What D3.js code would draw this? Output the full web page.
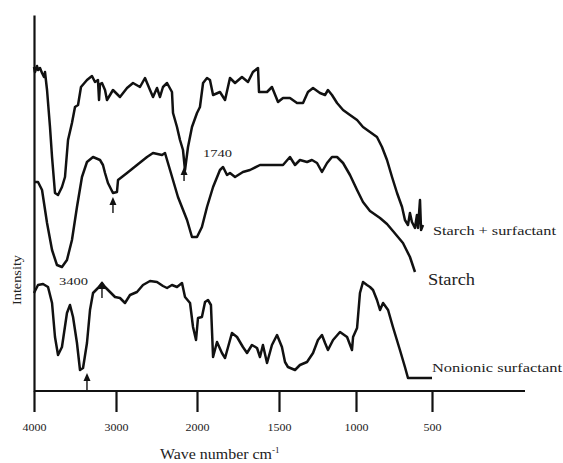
<!DOCTYPE html>
<html><head><meta charset="utf-8">
<script src="https://cdn.jsdelivr.net/npm/d3@7"></script>
<style>
body{margin:0;background:#fff}
svg{display:block}
text{font-family:"Liberation Serif","Times New Roman",serif;fill:#222}
</style>
</head><body>
<svg id="c" width="563" height="463"></svg>
<script>
// ---- data (wavenumber in cm-1, intensity in arbitrary units) ----
const xTicks = [4000, 3000, 2000, 1500, 1000, 500];

const wnStarchSurf = [4000,3988,3963,3951,3927,3902,3878,3866,3841,3805,3780,3744,3707,3659,3622,3585,3537,3500,3463,3427,3354,3293,3256,3220,3207,3195,3171,3134,3110,3073,3037,2951,2864,2790,2704,2642,2580,2543,2494,2457,2420,2370,2309,2296,2247,2210,2173,2148,2111,2062,2000,1982,1963,1939,1921,1902,1860,1829,1799,1768,1726,1689,1659,1628,1622,1573,1543,1506,1474,1429,1383,1344,1312,1279,1234,1201,1182,1156,1123,1084,1039,993,954,908,862,829,796,763,730,697,678,658,645,632,612,599,592,579,572,559];
const intStarchSurf = [324,319,325,321,323,318,314,319,301,264,234,198,196,204,214,251,268,284,286,304,311,315,309,311,291,307,308,301,291,296,301,294,303,308,304,313,301,294,303,294,304,308,299,278,264,251,241,221,244,264,278,284,308,313,311,296,299,291,313,308,314,309,319,323,299,299,304,289,293,293,288,288,299,303,298,296,301,296,288,281,276,271,264,259,254,244,231,214,198,184,171,166,178,169,163,176,163,191,161,166];

const wnStarch = [4000,3951,3902,3841,3780,3720,3659,3598,3537,3476,3415,3354,3280,3195,3159,3134,3098,3037,2988,2975,2864,2741,2617,2543,2432,2395,2333,2235,2123,2062,2000,1970,1939,1902,1860,1841,1817,1799,1768,1720,1677,1616,1555,1474,1429,1396,1364,1318,1286,1253,1221,1188,1156,1123,1084,1039,993,954,908,842,796,757,691,645,612];
const intStarch = [209,209,201,168,141,126,124,131,151,184,214,229,234,231,226,218,208,198,199,211,218,226,234,238,236,238,221,194,171,154,154,164,184,204,221,224,216,218,214,219,221,226,226,226,234,226,231,229,231,228,219,228,234,234,228,216,201,189,180,173,167,160,148,134,119];

const wnNonionic = [4000,3951,3890,3829,3780,3744,3707,3659,3598,3561,3524,3476,3439,3402,3354,3317,3280,3220,3171,3134,3073,3012,2951,2889,2827,2741,2667,2580,2494,2420,2370,2309,2247,2185,2148,2086,2049,2012,1994,1970,1951,1933,1915,1902,1878,1848,1829,1787,1756,1720,1695,1665,1634,1616,1598,1573,1543,1512,1481,1461,1442,1396,1364,1318,1279,1247,1221,1201,1182,1149,1104,1058,1026,1019,993,974,954,928,908,888,862,842,822,789,757,711,678,658,599,500];
const intNonionic = [98,106,107,104,88,54,36,44,78,86,74,48,21,23,48,81,98,103,108,104,99,94,93,88,96,99,106,110,109,105,103,106,104,108,94,88,64,51,73,74,89,91,86,34,49,38,33,58,54,44,38,46,43,34,46,28,46,56,44,29,24,21,26,29,38,51,56,48,41,51,59,54,41,54,63,98,109,106,104,101,91,81,88,81,64,41,24,13,13,13];

const seriesNames = ["Starch + surfactant", "Starch", "Nonionic surfactant"];

// arrow annotations (wavenumber, tip intensity, tail intensity)
const arrowWn = [2160, 3037, 3354, 3171];
const arrowTip = [224, 194, 18, 110];
const arrowTail = [210, 178, 0, 93];

const peakLabels = ["1740", "3400"];
const peakLabelWn = [1963, 3695];
const peakLabelInt = [234, 106];

// ---- layout ----
const svg = d3.select("#c");
svg.append("rect").attr("width", 563).attr("height", 463).attr("fill", "#fff");

const x = d3.scaleLinear().domain(xTicks).range([34, 116, 197, 279, 356, 432]);
const y = d3.scaleLinear().domain([0, 376]).range([391, 15]);

// x axis
const xAxis = d3.axisBottom(x).tickValues(xTicks).tickSize(21).tickSizeOuter(0).tickPadding(12)
  .tickFormat(d3.format("d"));
const gx = svg.append("g").attr("transform", "translate(0,391)").call(xAxis);
gx.select(".domain").remove();
gx.selectAll(".tick line").attr("stroke", "#111").attr("stroke-width", 2.2);
gx.selectAll(".tick text").attr("font-family", "Liberation Serif").attr("font-size", 10)
  .attr("fill", "#333").attr("textLength", 24).attr("lengthAdjust", "spacingAndGlyphs");
gx.selectAll(".tick text").filter(d => d === 500).attr("textLength", 18);
svg.append("line").attr("x1", x(4000)).attr("x2", 525).attr("y1", 391).attr("y2", 391)
  .attr("stroke", "#111").attr("stroke-width", 2.2);

// y axis
const yAxis = d3.axisLeft(y).tickValues([]).tickSizeOuter(0);
const gy = svg.append("g").attr("transform", `translate(${x(4000)},0)`).call(yAxis);
gy.select(".domain").attr("stroke", "#111").attr("stroke-width", 2.2);

// curves
const line = d3.line().x(d => x(d[0])).y(d => y(d[1])).curve(d3.curveLinear);
const allSeries = [
  d3.zip(wnStarchSurf, intStarchSurf),
  d3.zip(wnStarch, intStarch),
  d3.zip(wnNonionic, intNonionic)
];
svg.selectAll("path.curve").data(allSeries).join("path")
  .attr("class", "curve")
  .attr("d", line)
  .attr("fill", "none")
  .attr("stroke", "#111")
  .attr("stroke-width", 2.5)
  .attr("stroke-linejoin", "round");

// arrows
arrowWn.forEach((w, i) => {
  const ax = x(w), ty = y(arrowTip[i]), by = y(arrowTail[i]);
  svg.append("line").attr("x1", ax).attr("x2", ax).attr("y1", ty + 6).attr("y2", by)
    .attr("stroke", "#111").attr("stroke-width", 1.4);
  svg.append("path").attr("d", `M${ax},${ty} L${ax - 3.5},${ty + 8} L${ax + 3.5},${ty + 8} Z`)
    .attr("fill", "#111");
});

// peak labels
peakLabels.forEach((t, i) => {
  svg.append("text").attr("x", x(peakLabelWn[i])).attr("y", y(peakLabelInt[i]))
    .attr("font-size", 11).attr("textLength", 29).attr("lengthAdjust", "spacingAndGlyphs")
    .attr("fill", "#444").text(t);
});

// series labels
const seriesLabelPos = [[433, 235, 13, 123], [428, 285, 17, 47], [432, 372, 13, 130]];
seriesNames.forEach((t, i) => {
  const p = seriesLabelPos[i];
  svg.append("text").attr("x", p[0]).attr("y", p[1]).attr("font-size", p[2])
    .attr("textLength", p[3]).attr("lengthAdjust", "spacingAndGlyphs").text(t);
});

// axis titles
const xt = svg.append("text").attr("x", 160).attr("y", 459).attr("font-size", 14.5);
xt.append("tspan").attr("textLength", 112).attr("lengthAdjust", "spacingAndGlyphs").text("Wave number cm");
xt.append("tspan").attr("dy", -6).attr("font-size", 9).text("-1");
svg.append("text").attr("transform", "translate(21,280) rotate(-90)")
  .attr("text-anchor", "middle").attr("font-size", 12).attr("textLength", 50)
  .attr("lengthAdjust", "spacingAndGlyphs").attr("fill", "#333").text("Intensity");
</script>
</body></html>
